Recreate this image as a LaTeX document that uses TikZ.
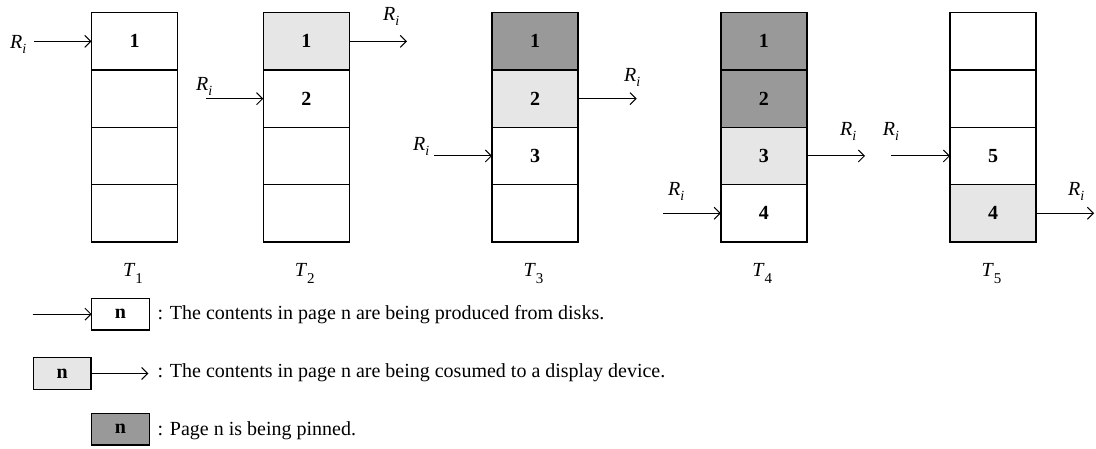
\documentclass[tikz,border=0pt]{standalone}
\usepackage{fontspec}
\setmainfont{Liberation Serif}
\usetikzlibrary{arrows.meta}
\definecolor{consumedfill}{HTML}{E6E6E6}
\definecolor{pinnedfill}{HTML}{999999}
\newcommand{\reqR}{\textit{R}\raisebox{-5pt}{\fontsize{14}{14}\selectfont\textit{i}}}
\newcommand{\timeT}[1]{\textit{T}\raisebox{-6.5pt}{\fontsize{15}{15}\selectfont #1}}
\tikzset{
  page/.style={draw=black, line width=1.3pt, minimum width=86pt, minimum height=57.3pt,
    inner sep=0pt, outer sep=0pt, font=\fontsize{20}{24}\selectfont\bfseries},
  consumed/.style={page, fill=consumedfill},
  pinned/.style={page, fill=pinnedfill},
  keybox/.style={page, minimum width=57.6pt, minimum height=31.7pt},
  flow/.style={line width=1pt, -{Straight Barb[length=6pt,width=12pt]}},
  lbl/.style={anchor=base west, inner sep=0pt, font=\fontsize{20}{24}\selectfont},
}
\begin{document}
\begin{tikzpicture}[x=1pt,y=-1pt]
\useasboundingbox (0,0) rectangle (1096,448);

% buffer pages at T1
\node[page] (p11) at (134.5, 41.35) {1};
\node[page] (p12) at (134.5, 98.65) {};
\node[page] (p13) at (134.5,155.95) {};
\node[page] (p14) at (134.5,213.25) {};
% T2
\node[consumed] (p21) at (306.3, 41.35) {1};
\node[page]     (p22) at (306.3, 98.65) {2};
\node[page]     (p23) at (306.3,155.95) {};
\node[page]     (p24) at (306.3,213.25) {};
% T3
\node[pinned]   (p31) at (535, 41.35) {1};
\node[consumed] (p32) at (535, 98.65) {2};
\node[page]     (p33) at (535,155.95) {3};
\node[page]     (p34) at (535,213.25) {};
% T4
\node[pinned]   (p41) at (763.9, 41.35) {1};
\node[pinned]   (p42) at (763.9, 98.65) {2};
\node[consumed] (p43) at (763.9,155.95) {3};
\node[page]     (p44) at (763.9,213.25) {4};
% T5
\node[page]     (p51) at (993, 41.35) {};
\node[page]     (p52) at (993, 98.65) {};
\node[page]     (p53) at (993,155.95) {5};
\node[consumed] (p54) at (993,213.25) {4};

% time labels
\node[lbl] (t1) at (122.8,276.7) {\timeT{1}};
\node[lbl] (t2) at (294.6,276.7) {\timeT{2}};
\node[lbl] (t3) at (523.3,276.7) {\timeT{3}};
\node[lbl] (t4) at (752.2,276.7) {\timeT{4}};
\node[lbl] (t5) at (981.3,276.7) {\timeT{5}};

% request streams: producing into / consuming out of pages
\coordinate (in1)  at (34, 41.35);
\coordinate (out2) at (407, 41.35);
\coordinate (in2)  at (206, 98.65);
\coordinate (out3) at (636.7, 98.65);
\coordinate (in3)  at (434,155.95);
\coordinate (out4) at (865,155.95);
\coordinate (in4)  at (663,213.25);
\coordinate (in5)  at (891,155.95);
\coordinate (out5) at (1094,213.25);

\draw[flow] (in1) -- (p11.west);
\draw[flow] (p21.east) -- (out2);
\draw[flow] (in2) -- (p22.west);
\draw[flow] (p32.east) -- (out3);
\draw[flow] (in3) -- (p33.west);
\draw[flow] (p43.east) -- (out4);
\draw[flow] (in4) -- (p44.west);
\draw[flow] (in5) -- (p53.west);
\draw[flow] (p54.east) -- (out5);

\node[lbl] (r1)  at (10, 48.3) {\reqR};
\node[lbl] (r2o) at (383, 20) {\reqR};
\node[lbl] (r2i) at (196, 90) {\reqR};
\node[lbl] (r3o) at (624, 81.7) {\reqR};
\node[lbl] (r3i) at (413, 150) {\reqR};
\node[lbl] (r4o) at (840, 135) {\reqR};
\node[lbl] (r4i) at (668, 195) {\reqR};
\node[lbl] (r5i) at (882.7, 135) {\reqR};
\node[lbl] (r5o) at (1068, 195) {\reqR};

% legend
\node[keybox] (k1) at (120.5,314.2) {n};
\node[keybox, fill=consumedfill] (k2) at (62.2,373.5) {n};
\node[keybox, fill=pinnedfill] (k3) at (120.5,429) {n};
\coordinate (kin) at (32.7,314.2);
\coordinate (kout) at (148.3,373.5);
\draw[flow] (kin) -- (k1.west);
\draw[flow] (k2.east) -- (kout);
\node[lbl] (d1) at (157.5,319.3) {: The contents in page n are being produced from disks.};
\node[lbl] (d2) at (157.5,377.8) {: The contents in page n are being cosumed to a display device.};
\node[lbl] (d3) at (157.5,435) {: Page n is being pinned.};
\end{tikzpicture}
\end{document}
